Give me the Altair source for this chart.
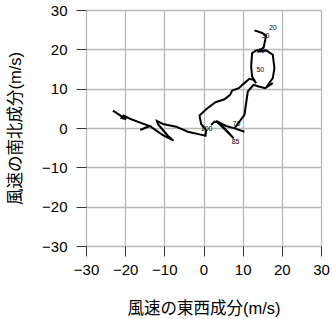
import altair as alt
import pandas as pd

# Hodograph A (labelled levels)
a_u = [1.96, 2.81, 3.91, 5.78, 7.74, 3.23, 5.78, 7.91, 10.46, 7.91, 9.18, 10.46, 10.88, 11.31,
       12.76, 14.12, 15.73, 17.69, 16.16, 17.69, 18.11, 17.69, 15.99, 14.29, 15.39, 15.73,
       15.99, 14.97, 13.01]
a_v = [0.77, 1.62, 1.36, -0.51, -2.64, 1.79, 0.51, -0.09, -0.94, -0.09, 1.62, 3.32, 6.29, 9.27,
       10.97, 10.54, 10.12, 11.39, 10.54, 12.67, 15.22, 18.62, 19.73, 19.47, 20.58, 22.28,
       23.47, 24.15, 24.83]

# Hodograph B
b_u = [-23.13, -19.73, -20.92, -20.41, -18.45, -15.48, -13.78, -16.16, -13.78, -10.37, -7.65,
       -9.10, -10.37, -11.65, -11.90, -10.37, -6.97, -4.00, -1.02, 0.51, 0.68, -0.60, -1.02,
       0.68, 3.06, 5.36, 6.80, 7.31, 9.01, 10.20, 11.73, 12.76, 13.44, 12.41, 12.16, 12.41,
       13.44, 14.71]
b_v = [4.42, 2.21, 2.55, 3.15, 2.21, 1.11, 0.51, -0.51, 0.51, -1.79, -3.23, -1.96, -0.51, 1.02,
       1.79, 1.02, 0.34, -0.94, -1.62, -1.96, -0.51, 1.02, 3.15, 4.76, 6.55, 7.31, 8.42, 9.52,
       10.12, 11.22, 12.50, 12.24, 11.39, 13.10, 15.65, 19.05, 19.73, 19.90]

# level labels
lab_text = ["20", "30", "40", "50", "70", "100", "85"]
lab_u = [17.7, 15.8, 14.7, 14.5, 8.4, 0.8, 8.2]
lab_v = [25.4, 23.5, 19.5, 14.8, 1.0, -0.3, -3.6]

ticks = [-30, -20, -10, 0, 10, 20, 30]

rows = []
for i, (u, v) in enumerate(zip(a_u, a_v)):
    rows.append({"u": u, "v": v, "s": "A", "o": i})
for i, (u, v) in enumerate(zip(b_u, b_v)):
    rows.append({"u": u, "v": v, "s": "B", "o": i})
df = pd.DataFrame(rows)
labs = pd.DataFrame({"t": lab_text, "u": lab_u, "v": lab_v})

xs = alt.Scale(domain=[-30, 30], nice=False, zero=False)
ys = alt.Scale(domain=[-30, 30], nice=False, zero=False)

common = dict(values=ticks, tickCount=7, grid=True, gridColor="#b8b8b8", gridWidth=1.3,
              domain=False, tickColor="#333333", tickSize=10, tickWidth=1,
              labelFont="Liberation Sans", labelFontSize=15, labelColor="black",
              labelOverlap=False, labelFlush=False,
              titleFont="Liberation Sans, Noto Sans CJK JP", titleFontSize=16.5,
              titleFontWeight="normal", titleColor="black")

xaxis = alt.Axis(labelPadding=6, title="風速の東西成分(m/s)",
                 titleX=117.5, titleY=62, titleBaseline="middle", titleAnchor="middle",
                 **common)
yaxis = alt.Axis(labelPadding=9, title="風速の南北成分(m/s)",
                 titleX=-71, titleY=118, titleAngle=-90, titleBaseline="middle",
                 titleAlign="center", titleAnchor="middle", **common)

lines = alt.Chart(df).mark_line(color="black", strokeWidth=2, clip=True).encode(
    x=alt.X("u:Q", scale=xs, axis=xaxis),
    y=alt.Y("v:Q", scale=ys, axis=yaxis),
    detail="s:N",
    order="o:Q",
)

texts = alt.Chart(labs).mark_text(fontSize=7, color="black", fill="black",
                                  font="Liberation Sans").encode(
    x=alt.X("u:Q", scale=xs, axis=xaxis),
    y=alt.Y("v:Q", scale=ys, axis=yaxis),
    text="t:N",
)

chart = alt.layer(lines, texts).properties(
    width=235, height=236,
    autosize=alt.AutoSizeParams(type="none"),
    padding={"left": 86, "top": 10, "right": 11, "bottom": 73},
).configure_view(stroke="black", strokeWidth=2.2).configure(background="white")

chart.save("out.html", embed_options={"renderer": "svg", "actions": False})
